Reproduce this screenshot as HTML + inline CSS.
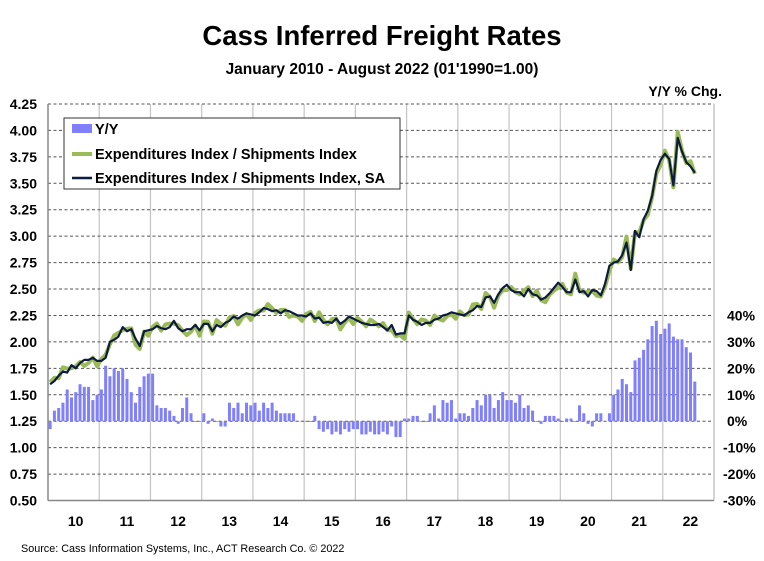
<!DOCTYPE html>
<html><head><meta charset="utf-8"><style>
body{margin:0;background:#fff;}
svg text{font-family:"Liberation Sans",Arial,sans-serif;font-weight:bold;fill:#000;}
</style></head><body>
<svg id="c" width="764" height="556" viewBox="0 0 764 556" xmlns="http://www.w3.org/2000/svg">
<text x="382" y="45" font-size="27.5" text-anchor="middle">Cass Inferred Freight Rates</text>
<text x="382" y="74" font-size="15.5" text-anchor="middle">January 2010 - August 2022 (01'1990=1.00)</text>
<text x="722" y="96" font-size="14" text-anchor="end">Y/Y % Chg.</text>
<g id="grid"></g>
<g id="bars"></g>
<g id="lines"></g>
<g id="labels"></g>
<rect x="64" y="118" width="336" height="71" fill="#fff" stroke="#333" stroke-width="1"/>
<rect x="72" y="124" width="20" height="9" fill="#8080ff"/>
<text x="95" y="134" font-size="14.5">Y/Y</text>
<line x1="72" y1="154" x2="92" y2="154" stroke="#9bbb59" stroke-width="4"/>
<text x="95" y="159" font-size="14.5">Expenditures Index / Shipments Index</text>
<line x1="72" y1="178" x2="92" y2="178" stroke="#0d1b3e" stroke-width="2.5"/>
<text x="95" y="183" font-size="14.5">Expenditures Index / Shipments Index, SA</text>
<text x="21" y="552" font-size="10.8" style="font-weight:normal">Source: Cass Information Systems, Inc., ACT Research Co. © 2022</text>
</svg>
<script>
const NS="http://www.w3.org/2000/svg";
const X0=48,X1=714,Y0=104,Y1=500.5;
const yr=(X1-X0)/13, mo=yr/12;
const yv=v=>Y1-(v-0.5)/3.75*(Y1-Y0);
const yp=p=>yv(1.25+p/40);
function el(g,t,a,txt){const e=document.createElementNS(NS,t);for(const k in a)e.setAttribute(k,a[k]);if(txt!==undefined)e.textContent=txt;document.getElementById(g).appendChild(e);return e;}
for(let i=1;i<13;i++){const x=X0+i*yr;el('grid','line',{x1:x,y1:Y0,x2:x,y2:Y1,stroke:'#c4c4c4','stroke-width':1.2});}
for(let i=0;i<15;i++){const v=0.75+i*0.25,y=yv(v);el('grid','line',{x1:X0,y1:y,x2:X1,y2:y,stroke:'#555','stroke-width':1,'stroke-dasharray':'3,2.5'});}
el('grid','line',{x1:X0,y1:Y0,x2:X0,y2:Y1,stroke:'#888','stroke-width':1.5});
el('grid','line',{x1:X0,y1:Y1,x2:X1,y2:Y1,stroke:'#888','stroke-width':1.5});
el('grid','line',{x1:X1,y1:Y0,x2:X1,y2:Y1,stroke:'#aaa','stroke-width':1});
for(let i=0;i<16;i++){const v=0.5+i*0.25;el('labels','text',{x:37,y:yv(v)+5,'font-size':14,'text-anchor':'end'},v.toFixed(2));}
for(let p=-30;p<=40;p+=10){el('labels','text',{x:p<0?723:727,y:yp(p)+5,'font-size':14},p+'%');}
for(let i=0;i<13;i++){el('labels','text',{x:X0+(i+0.5)*yr+2,y:526,'font-size':14,'text-anchor':'middle'},String(10+i));}
const yy=[-3,4,5,7,12,9,11,14,13,13,8,10, 12,21,17,20,19,20,16,11,7,13,17,18, 18,6,5,5,4,2,-1,5,9,3,0,0, 3,-1,1,0,-2,-2,7,5,7,3,7,6, 7,4,7,5,7,4,3,3,3,3,0,0, 0,0,2,-3,-4,-3,-5,-4,-5,-3,-4,-3, -3,-5,-5,-4,-5,-5,-4,-5,-2,-6,-6,1, 1,2,2,0,0,3,6,1,8,7,8,1, 3,3,2,5,8,6,10,10,5,8,11,8, 8,7,10,5,6,4,0,-1,2,2,2,1, 0,1,1,0,6,3,-1,-2,3,3,0,3, 10,12,16,14,11,23,24,27,31,36,38,33, 35,37,32,31,31,28,26,15];
yy.forEach((p,i)=>{const x=X0+(i+0.5)*mo-1.5;const a=yp(0),b=yp(p);el('bars','rect',{x:x,y:Math.min(a,b),width:3,height:Math.max(0.8,Math.abs(a-b)),fill:'#8080ff'});});
const sa=[1.60,1.63,1.68,1.72,1.71,1.78,1.75,1.80,1.83,1.83,1.85,1.82,
1.82,1.85,2.00,2.02,2.05,2.14,2.10,2.12,2.03,1.96,2.10,2.11,
2.12,2.15,2.13,2.12,2.14,2.20,2.13,2.10,2.12,2.12,2.16,2.11,
2.17,2.17,2.10,2.16,2.14,2.18,2.20,2.24,2.22,2.25,2.27,2.26,
2.25,2.28,2.32,2.31,2.29,2.30,2.27,2.30,2.29,2.27,2.25,2.25,
2.24,2.27,2.22,2.23,2.18,2.19,2.18,2.22,2.17,2.20,2.24,2.22,
2.20,2.18,2.17,2.16,2.16,2.17,2.14,2.11,2.16,2.07,2.08,2.08,
2.25,2.21,2.19,2.16,2.18,2.18,2.21,2.22,2.25,2.26,2.28,2.27,
2.26,2.25,2.28,2.30,2.34,2.33,2.42,2.43,2.37,2.45,2.51,2.54,
2.49,2.47,2.47,2.43,2.50,2.45,2.44,2.40,2.42,2.46,2.51,2.56,
2.52,2.47,2.47,2.59,2.47,2.48,2.43,2.49,2.48,2.44,2.55,2.72,
2.75,2.76,2.82,2.94,2.68,3.05,2.99,3.16,3.24,3.38,3.62,3.72,
3.78,3.73,3.48,3.93,3.80,3.70,3.66,3.60];
const nsa=sa.map((v,i)=>v+0.04*Math.sin(i*2.1+0.5)+0.02*Math.sin(i*0.52)+((i%12==9)?-0.03:0));
function path(d){return d.map((v,i)=>(i?'L':'M')+(X0+(i+0.5)*mo).toFixed(1)+','+yv(v).toFixed(1)).join('');}
el('lines','path',{d:path(nsa),fill:'none',stroke:'#9bbb59','stroke-width':4,'stroke-linejoin':'round'});
el('lines','path',{d:path(sa),fill:'none',stroke:'#0d1b3e','stroke-width':2.2,'stroke-linejoin':'round'});
</script>
</body></html>
